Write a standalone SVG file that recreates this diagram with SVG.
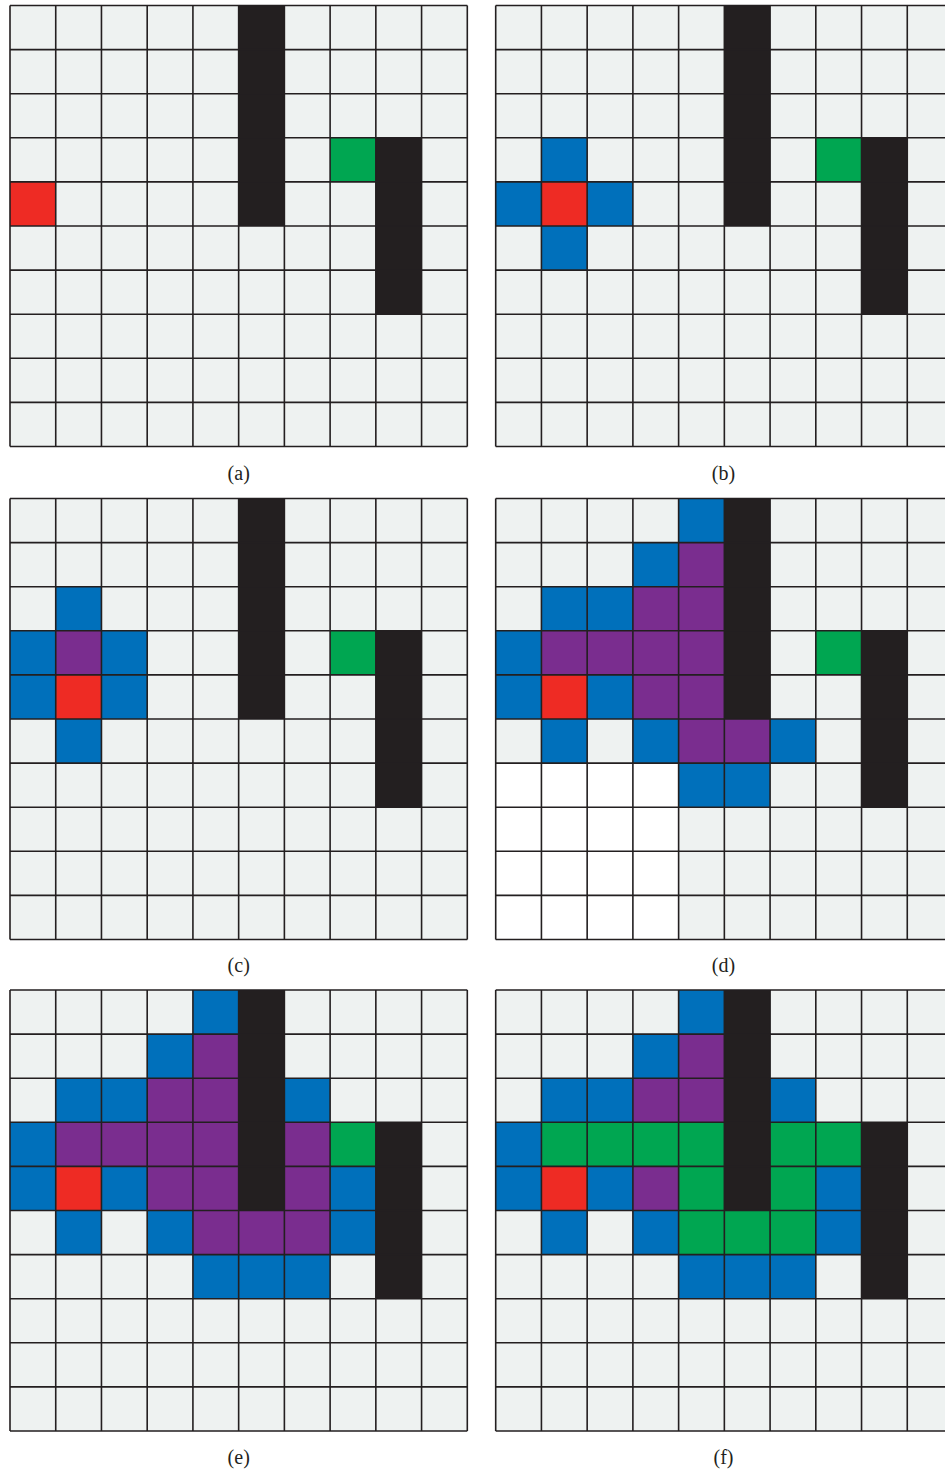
<svg xmlns="http://www.w3.org/2000/svg" xmlns:xlink="http://www.w3.org/1999/xlink" width="945" height="1469" viewBox="0 0 945 1469">
<style>
.bg{fill:#EEF2F1}
.k{fill:#231F20}
.r{fill:#EE2B24}
.g{fill:#00A651}
.b{fill:#0070BB}
.p{fill:#7A2D8F}
.w{fill:#FFFFFF}
.ln{stroke:#231F20;stroke-width:1.6;fill:none}
.lbl{font-family:"Liberation Serif",serif;font-size:20px;fill:#231F20;text-anchor:middle}
</style>
<defs>
<rect id="bgr" class="bg" x="0" y="0" width="457.3" height="441"/>
<g id="bars">
<rect class="k" x="228.65" y="0" width="45.73" height="220.5"/>
<rect class="k" x="365.84" y="132.3" width="45.73" height="176.4"/>
</g>
<path id="lines" class="ln" d="M0,0V441M45.73,0V441M91.46,0V441M137.19,0V441M182.92,0V441M228.65,0V441M274.38,0V441M320.11,0V441M365.84,0V441M411.57,0V441M457.3,0V441M0,0H457.3M0,44.1H457.3M0,88.2H457.3M0,132.3H457.3M0,176.4H457.3M0,220.5H457.3M0,264.6H457.3M0,308.7H457.3M0,352.8H457.3M0,396.9H457.3M0,441H457.3"/>
</defs>
<rect x="0" y="0" width="945" height="1469" fill="#FFFFFF"/>

<g id="panel-a" transform="translate(10,5.5)">
<use href="#bgr"/>
<rect class="r" x="0" y="176.4" width="45.73" height="44.1"/>
<rect class="g" x="320.11" y="132.3" width="45.73" height="44.1"/>
<use href="#bars"/>
<use href="#lines"/>
</g>

<g id="panel-b" transform="translate(495.7,5.5)">
<use href="#bgr"/>
<rect class="b" x="45.73" y="132.3" width="45.73" height="44.1"/>
<rect class="b" x="0" y="176.4" width="45.73" height="44.1"/>
<rect class="b" x="91.46" y="176.4" width="45.73" height="44.1"/>
<rect class="b" x="45.73" y="220.5" width="45.73" height="44.1"/>
<rect class="r" x="45.73" y="176.4" width="45.73" height="44.1"/>
<rect class="g" x="320.11" y="132.3" width="45.73" height="44.1"/>
<use href="#bars"/>
<use href="#lines"/>
</g>

<g id="panel-c" transform="translate(10,498.5)">
<use href="#bgr"/>
<rect class="b" x="45.73" y="88.2" width="45.73" height="44.1"/>
<rect class="b" x="0" y="132.3" width="45.73" height="88.2"/>
<rect class="b" x="91.46" y="132.3" width="45.73" height="88.2"/>
<rect class="b" x="45.73" y="220.5" width="45.73" height="44.1"/>
<rect class="p" x="45.73" y="132.3" width="45.73" height="44.1"/>
<rect class="r" x="45.73" y="176.4" width="45.73" height="44.1"/>
<rect class="g" x="320.11" y="132.3" width="45.73" height="44.1"/>
<use href="#bars"/>
<use href="#lines"/>
</g>

<g id="panel-d" transform="translate(495.7,498.5)">
<use href="#bgr"/>
<rect class="w" x="0" y="264.6" width="182.92" height="176.4"/>
<rect class="b" x="182.92" y="0" width="45.73" height="44.1"/>
<rect class="b" x="137.19" y="44.1" width="45.73" height="44.1"/>
<rect class="b" x="45.73" y="88.2" width="91.46" height="44.1"/>
<rect class="b" x="0" y="132.3" width="45.73" height="88.2"/>
<rect class="b" x="91.46" y="176.4" width="45.73" height="44.1"/>
<rect class="b" x="45.73" y="220.5" width="45.73" height="44.1"/>
<rect class="b" x="137.19" y="220.5" width="45.73" height="44.1"/>
<rect class="b" x="274.38" y="220.5" width="45.73" height="44.1"/>
<rect class="b" x="182.92" y="264.6" width="91.46" height="44.1"/>
<rect class="p" x="182.92" y="44.1" width="45.73" height="44.1"/>
<rect class="p" x="137.19" y="88.2" width="91.46" height="44.1"/>
<rect class="p" x="45.73" y="132.3" width="182.92" height="44.1"/>
<rect class="p" x="137.19" y="176.4" width="91.46" height="44.1"/>
<rect class="p" x="182.92" y="220.5" width="91.46" height="44.1"/>
<rect class="r" x="45.73" y="176.4" width="45.73" height="44.1"/>
<rect class="g" x="320.11" y="132.3" width="45.73" height="44.1"/>
<use href="#bars"/>
<use href="#lines"/>
</g>

<g id="panel-e" transform="translate(10,990)">
<use href="#bgr"/>
<rect class="b" x="182.92" y="0" width="45.73" height="44.1"/>
<rect class="b" x="137.19" y="44.1" width="45.73" height="44.1"/>
<rect class="b" x="45.73" y="88.2" width="91.46" height="44.1"/>
<rect class="b" x="274.38" y="88.2" width="45.73" height="44.1"/>
<rect class="b" x="0" y="132.3" width="45.73" height="88.2"/>
<rect class="b" x="91.46" y="176.4" width="45.73" height="44.1"/>
<rect class="b" x="320.11" y="176.4" width="45.73" height="88.2"/>
<rect class="b" x="45.73" y="220.5" width="45.73" height="44.1"/>
<rect class="b" x="137.19" y="220.5" width="45.73" height="44.1"/>
<rect class="b" x="182.92" y="264.6" width="137.19" height="44.1"/>
<rect class="p" x="182.92" y="44.1" width="45.73" height="44.1"/>
<rect class="p" x="137.19" y="88.2" width="91.46" height="44.1"/>
<rect class="p" x="45.73" y="132.3" width="182.92" height="44.1"/>
<rect class="p" x="274.38" y="132.3" width="45.73" height="88.2"/>
<rect class="p" x="137.19" y="176.4" width="91.46" height="44.1"/>
<rect class="p" x="182.92" y="220.5" width="137.19" height="44.1"/>
<rect class="r" x="45.73" y="176.4" width="45.73" height="44.1"/>
<rect class="g" x="320.11" y="132.3" width="45.73" height="44.1"/>
<use href="#bars"/>
<use href="#lines"/>
</g>

<g id="panel-f" transform="translate(495.7,990)">
<use href="#bgr"/>
<rect class="b" x="182.92" y="0" width="45.73" height="44.1"/>
<rect class="b" x="137.19" y="44.1" width="45.73" height="44.1"/>
<rect class="b" x="45.73" y="88.2" width="91.46" height="44.1"/>
<rect class="b" x="274.38" y="88.2" width="45.73" height="44.1"/>
<rect class="b" x="0" y="132.3" width="45.73" height="88.2"/>
<rect class="b" x="91.46" y="176.4" width="45.73" height="44.1"/>
<rect class="b" x="320.11" y="176.4" width="45.73" height="88.2"/>
<rect class="b" x="45.73" y="220.5" width="45.73" height="44.1"/>
<rect class="b" x="137.19" y="220.5" width="45.73" height="44.1"/>
<rect class="b" x="182.92" y="264.6" width="137.19" height="44.1"/>
<rect class="p" x="182.92" y="44.1" width="45.73" height="44.1"/>
<rect class="p" x="137.19" y="88.2" width="91.46" height="44.1"/>
<rect class="p" x="137.19" y="176.4" width="45.73" height="44.1"/>
<rect class="g" x="45.73" y="132.3" width="182.92" height="44.1"/>
<rect class="g" x="274.38" y="132.3" width="91.46" height="44.1"/>
<rect class="g" x="182.92" y="176.4" width="45.73" height="44.1"/>
<rect class="g" x="274.38" y="176.4" width="45.73" height="44.1"/>
<rect class="g" x="182.92" y="220.5" width="137.19" height="44.1"/>
<rect class="r" x="45.73" y="176.4" width="45.73" height="44.1"/>
<use href="#bars"/>
<use href="#lines"/>
</g>

<g id="labels">
<text class="lbl" x="238.7" y="480">(a)</text>
<text class="lbl" x="723.5" y="480">(b)</text>
<text class="lbl" x="238.7" y="972">(c)</text>
<text class="lbl" x="723.5" y="972">(d)</text>
<text class="lbl" x="238.7" y="1463.5">(e)</text>
<text class="lbl" x="723.5" y="1463.5">(f)</text>
</g>
</svg>
